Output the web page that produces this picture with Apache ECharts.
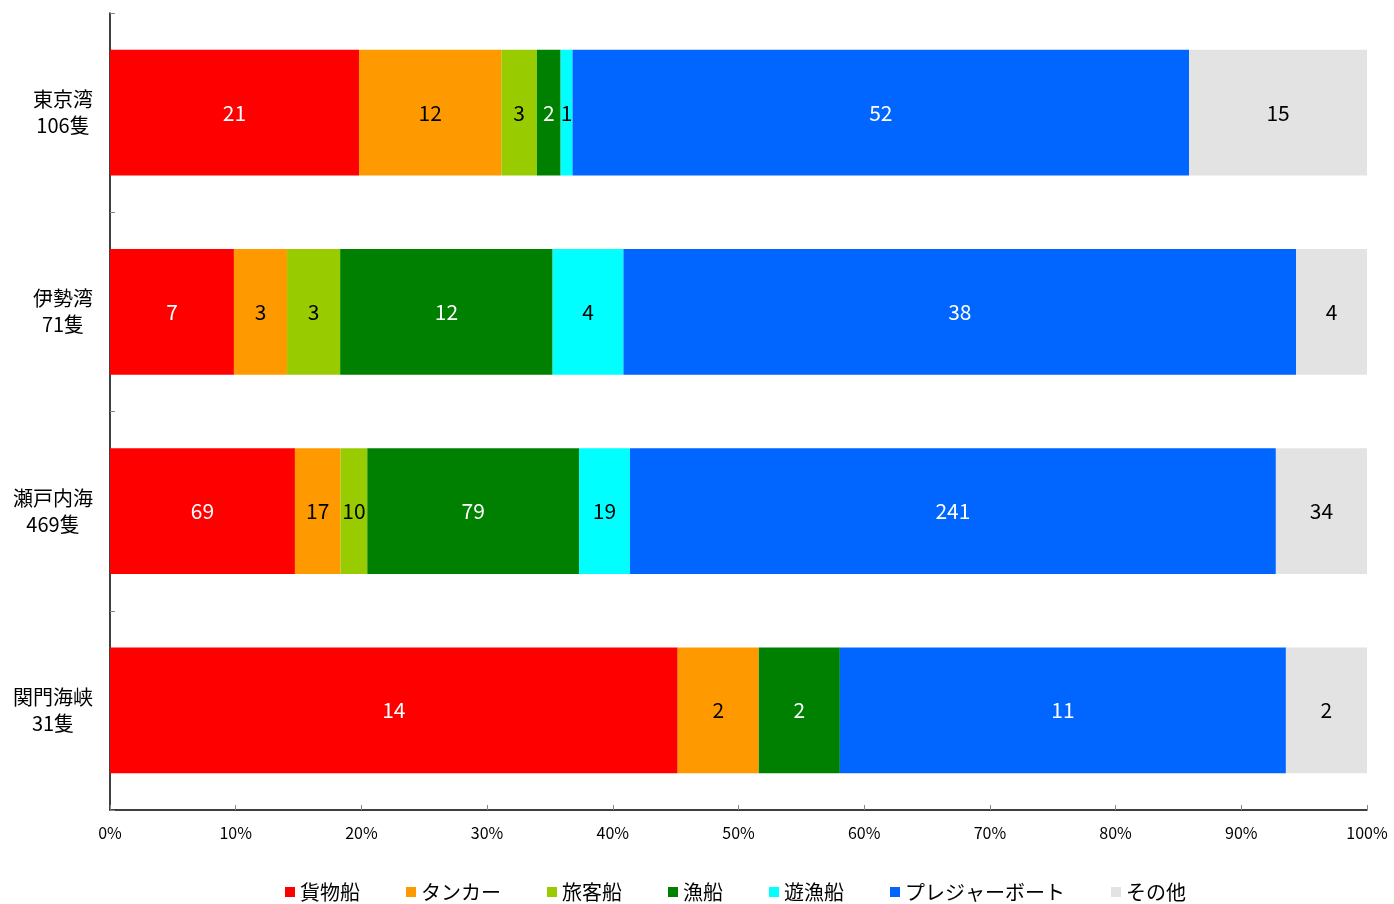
<!DOCTYPE html>
<html>
<head>
<meta charset="utf-8">
<script src="https://cdn.jsdelivr.net/npm/echarts@6/dist/echarts.min.js"></script>
<style>
html,body{margin:0;padding:0;background:#fff;}
#chart{width:1394px;height:904px;}
</style>
</head>
<body>
<div id="chart"></div>
<script>
const areas = ['東京湾', '伊勢湾', '瀬戸内海', '関門海峡'];
const areaTotals = ['106隻', '71隻', '469隻', '31隻'];
const seriesNames = ['貨物船', 'タンカー', '旅客船', '漁船', '遊漁船', 'プレジャーボート', 'その他'];
const cargo    = [21, 7, 69, 14];
const tanker   = [12, 3, 17, 2];
const passenger= [3, 3, 10, 0];
const fishing  = [2, 12, 79, 2];
const angling  = [1, 4, 19, 0];
const pleasure = [52, 38, 241, 11];
const other    = [15, 4, 34, 2];
const xTicks = ['0%','10%','20%','30%','40%','50%','60%','70%','80%','90%','100%'];

const colors = ['#FF0000', '#FF9900', '#99CC00', '#008000', '#00FFFF', '#0066FF', '#E3E3E3'];
const labelColors = ['#fff', '#000', '#000', '#fff', '#000', '#fff', '#000'];
const allValues = [cargo, tanker, passenger, fishing, angling, pleasure, other];

const sums = areas.map((_, i) => allValues.reduce((s, arr) => s + arr[i], 0));

const series = seriesNames.map((name, k) => ({
  name: name,
  type: 'bar',
  stack: 'total',
  barWidth: '63%',
  itemStyle: { color: colors[k] },
  label: {
    show: true,
    position: 'inside',
    color: labelColors[k],
    fontSize: 21,
    fontFamily: 'Noto Sans CJK JP',
    formatter: p => (p.data.count > 0 ? String(p.data.count) : '')
  },
  emphasis: { disabled: true },
  data: allValues[k].map((v, i) => ({ value: v / sums[i] * 100, count: v }))
}));

const chart = echarts.init(document.getElementById('chart'), null, { renderer: 'canvas' });
chart.setOption({
  animation: false,
  backgroundColor: '#fff',
  grid: { left: 110, right: 27, top: 13, bottom: 94, containLabel: false },
  legend: {
    top: 877,
    left: 280,
    itemWidth: 10,
    itemHeight: 10,
    itemGap: 46,
    icon: 'rect',
    textStyle: { fontSize: 20, color: '#000', fontFamily: 'Noto Sans CJK JP' },
    data: seriesNames
  },
  xAxis: {
    type: 'value',
    min: 0, max: 100, interval: 10,
    axisLine: { show: true, lineStyle: { color: '#000', width: 1.5 } },
    axisTick: { show: true, inside: true, length: 5, lineStyle: { color: '#888' } },
    splitLine: { show: false },
    axisLabel: {
      margin: 15, fontSize: 16, color: '#000', fontFamily: 'Noto Sans CJK JP',
      formatter: (v) => xTicks[Math.round(v / 10)]
    }
  },
  yAxis: {
    type: 'category',
    inverse: true,
    data: areas,
    axisLine: { show: true, lineStyle: { color: '#000', width: 1.5 } },
    axisTick: { show: true, inside: true, length: 5, lineStyle: { color: '#888' } },
    axisLabel: {
      margin: 17,
      fontFamily: 'Noto Sans CJK JP',
      formatter: (v, i) => '{a|' + v + '}\n{a|' + areaTotals[i] + '}',
      rich: {
        a: { fontSize: 20, color: '#000', align: 'center', lineHeight: 26, fontFamily: 'Noto Sans CJK JP' }
      }
    }
  },
  series: series
});
</script>
</body>
</html>
